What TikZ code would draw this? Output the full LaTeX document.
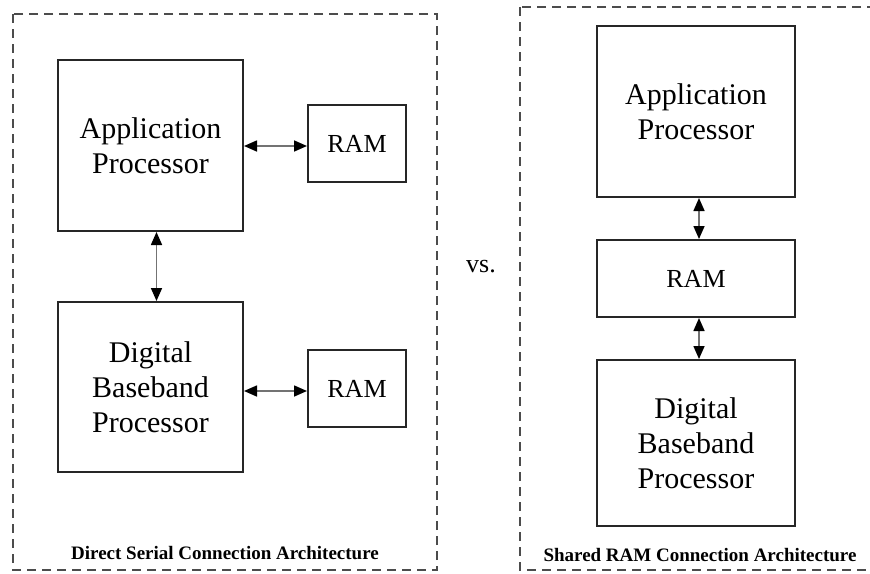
\documentclass[tikz,border=0pt]{standalone}
\usepackage{fontspec}
\setmainfont{Liberation Serif}
\usetikzlibrary{arrows.meta}

\begin{document}
\begin{tikzpicture}[x=1pt, y=-1pt,
  block/.style={draw=black!85, line width=2pt, align=center, inner sep=0pt,
    font=\fontsize{30}{35}\selectfont},
  ramblock/.style={block, font=\fontsize{26}{30}\selectfont},
  link/.style={draw=black!55, line width=1.6pt,
    {Triangle[length=13pt,width=11pt,color=black]}-{Triangle[length=13pt,width=11pt,color=black]}},
  frame/.style={draw=black!70, line width=2pt, dash pattern=on 9pt off 6pt},
  caption/.style={font=\bfseries\fontsize{19}{22}\selectfont}]
  \useasboundingbox (0,0) rectangle (870,573);

  % 1. direct serial connection
  \draw[frame] (13,14) rectangle (437,570);
  \node[block, minimum width=185pt, minimum height=171pt] (app) at (150.5,145.5)
    {Application\\Processor};
  \node[block, minimum width=185pt, minimum height=170pt] (dbp) at (150.5,387)
    {Digital\\Baseband\\Processor};
  \node[ramblock, minimum width=98pt, minimum height=77pt] (ramA) at (357,143.5) {RAM};
  \node[ramblock, minimum width=98pt, minimum height=77pt] (ramB) at (357,388.5) {RAM};
  \draw[link] (app.east |- 0,146) -- (ramA.west |- 0,146);
  \draw[link] (dbp.east |- 0,391) -- (ramB.west |- 0,391);
  \draw[link] ([xshift=6pt]app.south) -- ([xshift=6pt]dbp.north);
  \node[caption] (capA) at (225,553) {Direct Serial Connection Architecture};

  \node[font=\fontsize{26}{30}\selectfont] (vs) at (481,267) {vs.};

  % 2. shared RAM
  \draw[frame] (520,7) rectangle (885,570);
  \node[block, minimum width=198pt, minimum height=171pt] (appS) at (696,111.5)
    {Application\\Processor};
  \node[ramblock, minimum width=198pt, minimum height=77pt] (ramS) at (696,278.5) {RAM};
  \node[block, minimum width=198pt, minimum height=166pt] (dbpS) at (696,443)
    {Digital\\Baseband\\Processor};
  \draw[link] ([xshift=3pt]appS.south) -- ([xshift=3pt]ramS.north);
  \draw[link] ([xshift=3pt]ramS.south) -- ([xshift=3pt]dbpS.north);
  \node[caption] (capS) at (700,555) {Shared RAM Connection Architecture};
\end{tikzpicture}
\end{document}
